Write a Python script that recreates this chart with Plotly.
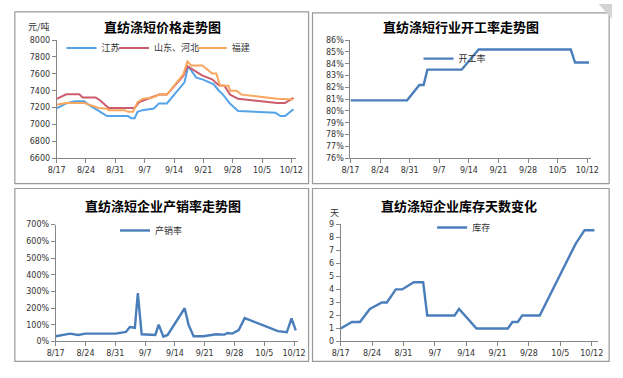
import plotly.graph_objects as go

W, H = 623, 378

# ---------------- data ----------------
week_ticks = [0, 7, 14, 21, 28, 35, 42, 49, 56]
week_labels = ["8/17", "8/24", "8/31", "9/7", "9/14", "9/21", "9/28", "10/5", "10/12"]

# Panel 1: price (元/吨), x = days since 8/17
js_day = [0, 2.3, 4.3, 6.6, 7.3, 9.3, 10.4, 12, 17, 17.8, 18.6, 19.3, 20.5, 23.2, 24.4, 26.3,
          30.5, 31.4, 33.3, 34.8, 37.5, 38.7, 39.6, 41.4, 43.3, 52.2, 53.4, 54.5, 56.5]
js_val = [7190, 7250, 7275, 7275, 7245, 7190, 7150, 7100, 7100, 7075, 7075, 7150, 7170, 7190, 7250, 7250,
          7500, 7690, 7555, 7535, 7475, 7400, 7360, 7245, 7160, 7140, 7100, 7100, 7180]

sd_day = [0, 2.3, 5.4, 6.2, 9.3, 10.4, 12.4, 18.6, 19.7, 21.7, 24.4, 26.3, 30.2, 31.2, 33.3, 34.8,
          37.1, 38.7, 40, 41.4, 43.3, 52.6, 54.5, 56.5]
sd_val = [7304, 7358, 7358, 7320, 7320, 7285, 7196, 7196, 7265, 7304, 7354, 7354, 7574, 7690, 7620, 7580,
          7535, 7465, 7460, 7354, 7304, 7254, 7254, 7315]

fj_day = [0, 2.3, 6.6, 8.1, 10, 12, 12.4, 16.2, 17, 18.2, 19.3, 20.5, 23.2, 24.4, 26.3, 30.2, 31.2,
          32.1, 34.8, 37.1, 38.1, 39, 41, 41.4, 42.9, 44.1, 52.6, 56.5]
fj_val = [7235, 7254, 7254, 7227, 7196, 7188, 7170, 7170, 7150, 7150, 7265, 7304, 7323, 7354, 7354, 7593, 7747,
          7700, 7700, 7605, 7605, 7458, 7458, 7400, 7400, 7354, 7304, 7296]

# Panel 2: operating rate (%)
kg_day = [0, 13.4, 16.3, 17.3, 18.2, 26.3, 30.3, 52.1, 53.1, 56.4]
kg_val = [80.9, 80.9, 82.2, 82.2, 83.5, 83.5, 85.2, 85.2, 84.1, 84.1]

# Panel 3: production/sales ratio (%)
cx_day = [0, 3.4, 5.3, 6.9, 14.1, 16.5, 17.4, 18, 18.6, 19.3, 20.2, 23.4, 24.2, 25.3, 26.3, 30.3, 31.2,
          32.4, 34.7, 37.7, 39.6, 40.4, 41.5, 43, 44.4, 52.2, 54.3, 55.4, 56.4]
cx_val = [31, 47, 39, 47, 47, 57, 86, 82, 82, 290, 43, 39, 101, 29, 39, 199, 101,
          31, 31, 43, 41, 51, 47, 68, 140, 62, 55, 138, 66]

# Panel 4: inventory days
kc_day = [0, 2.5, 4.3, 6.5, 9.2, 10.3, 12.3, 13.7, 16.3, 18.4, 19.3, 25.4, 26.4, 30.3, 37.3, 38.3,
          39.5, 40.5, 44.4, 52.4, 54.4, 56.6]
kc_val = [1.0, 1.5, 1.5, 2.5, 3.0, 3.0, 4.0, 4.0, 4.55, 4.55, 2.0, 2.0, 2.5, 1.0, 1.0, 1.5,
          1.5, 2.0, 2.0, 7.5, 8.55, 8.55]

titles = ["直纺涤短价格走势图", "直纺涤短行业开工率走势图", "直纺涤短企业产销率走势图", "直纺涤短企业库存天数变化"]

# ---------------- helpers ----------------
def px(x):
    return x / W

def py(y):
    return 1 - y / H

CJK = "Noto Sans CJK SC"
TICKFONT = dict(family="DejaVu Sans", size=8, color="#333333")
AXC = "#868686"
BLUE = "#4A7EBB"

fig = go.Figure()

def add(day, val, name, color, xa, ya, leg, width=2.2):
    fig.add_trace(go.Scatter(x=day, y=val, name=name, mode="lines",
                             line=dict(color=color, width=width),
                             xaxis=xa, yaxis=ya, legend=leg, hoverinfo="skip"))

add(js_day, js_val, "江苏", "#53A3E8", "x", "y", "legend", 2)
add(sd_day, sd_val, "山东、河北", "#CC5B6B", "x", "y", "legend2", 2)
add(fj_day, fj_val, "福建", "#F9A65E", "x", "y", "legend3", 2)
add(kg_day, kg_val, "开工率", BLUE, "x2", "y2", "legend4", 2.4)
add(cx_day, cx_val, "产销率", BLUE, "x3", "y3", "legend5", 2.4)
add(kc_day, kc_val, "库存", BLUE, "x4", "y4", "legend6", 2.4)

def xaxis(dom, rng, anchor):
    return dict(domain=[px(dom[0]), px(dom[1])], range=rng, anchor=anchor,
                tickvals=week_ticks, ticktext=week_labels, tickfont=TICKFONT,
                showline=True, linecolor=AXC, linewidth=1, ticks="outside", ticklen=4,
                tickcolor=AXC, showgrid=False, zeroline=False, fixedrange=True)

def yaxis(dom, rng, dtick, anchor, suffix=""):
    return dict(domain=[py(dom[1]), py(dom[0])], range=rng, anchor=anchor, dtick=dtick,
                tick0=rng[0], ticksuffix=suffix, tickfont=TICKFONT,
                showline=True, linecolor=AXC, linewidth=1, ticks="outside", ticklen=4,
                tickcolor=AXC, showgrid=False, zeroline=False, fixedrange=True)

fig.update_layout(
    width=W, height=H, margin=dict(l=0, r=0, t=0, b=0),
    paper_bgcolor="white", plot_bgcolor="white",
    xaxis=xaxis((49, 295), [0, 57.1], "y"),
    yaxis=yaxis((37, 158), [6600, 8000], 200, "x"),
    xaxis2=xaxis((351, 598), [0, 56.8], "y2"),
    yaxis2=yaxis((37, 158), [76, 86], 1, "x2", "%"),
    xaxis3=xaxis((48, 297), [0, 56.9], "y3"),
    yaxis3=yaxis((226, 345.7), [0, 700], 100, "x3", "%"),
    xaxis4=xaxis((341, 606), [0, 57.5], "y4"),
    yaxis4=yaxis((225.7, 345.7), [0, 9], 1, "x4"),
    showlegend=True,
)

legfont = dict(family=CJK, size=9, color="#333333")
def leg(x, y):
    return dict(x=px(x), y=py(y), xanchor="left", yanchor="middle", orientation="h",
                bgcolor="rgba(0,0,0,0)", font=legfont, itemwidth=30)

fig.update_layout(
    legend=leg(54, 45), legend2=leg(108, 45), legend3=leg(188, 45),
    legend4=leg(421, 56), legend5=leg(109, 232), legend6=leg(435, 229),
)

# titles and unit labels
ann = []
for (x, y), t in zip([(158, 23), (465, 23), (158, 206), (463, 206)], titles):
    ann.append(dict(x=px(x), y=py(y), xref="paper", yref="paper", text="<b>" + t + "</b>",
                    showarrow=False, font=dict(family=CJK, size=13, color="#000000"),
                    xanchor="center", yanchor="middle"))
ann.append(dict(x=px(31), y=py(23), xref="paper", yref="paper", text="元/吨", showarrow=False,
                font=dict(family=CJK, size=9, color="#333333"), xanchor="center", yanchor="middle"))
ann.append(dict(x=px(335), y=py(214), xref="paper", yref="paper", text="天", showarrow=False,
                font=dict(family=CJK, size=9, color="#333333"), xanchor="center", yanchor="middle"))
fig.update_layout(annotations=ann)

# panel frames
shapes = []
for (x0, y0, x1, y1) in [(6, 8, 308, 184), (312, 9, 617, 184), (6, 189, 308, 366), (312, 189, 617, 366)]:
    shapes.append(dict(type="rect", xref="paper", yref="paper", x0=px(x0), x1=px(x1), y0=py(y1), y1=py(y0),
                       line=dict(color="#9a9a9a", width=1.2), fillcolor="rgba(0,0,0,0)", layer="below"))
# page-curl corner
shapes.append(dict(type="path", xref="paper", yref="paper",
                   path=f"M {px(606)},{py(0)} L {px(620)},{py(0)} L {px(620)},{py(15)} Z",
                   fillcolor="#d4d4d4", line=dict(width=0)))
fig.update_layout(shapes=shapes)

fig.write_html("out.html", config={"displayModeBar": False, "staticPlot": True},
               post_script="document.body.style.margin='0';document.body.style.overflow='hidden';")
